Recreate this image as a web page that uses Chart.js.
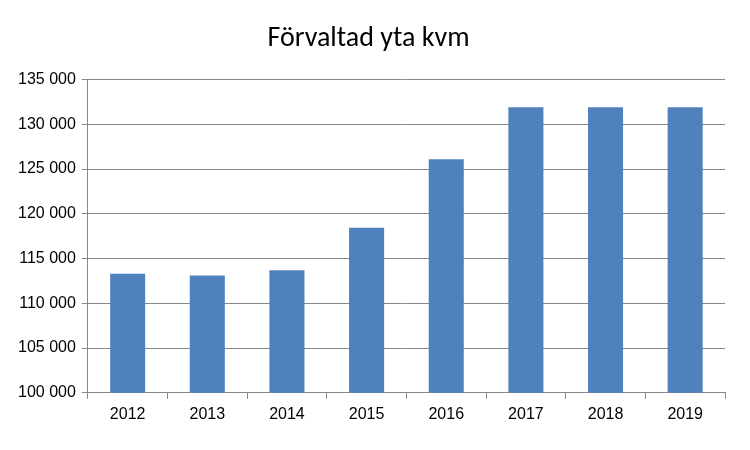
<!DOCTYPE html>
<html>
<head>
<meta charset="utf-8">
<script src="https://cdn.jsdelivr.net/npm/chart.js@4"></script>
<style>
  body { margin: 0; background: #fff; }
  #wrap { width: 750px; height: 450px; }
</style>
</head>
<body>
<div id="wrap"><canvas id="chart"></canvas></div>
<script>
const years = ['2012', '2013', '2014', '2015', '2016', '2017', '2018', '2019'];
const area = [113300, 113100, 113700, 118450, 126100, 131900, 131900, 131900];

function fmt(v) {
  return String(v).replace(/\B(?=(\d{3})+(?!\d))/g, ' ');
}

new Chart(document.getElementById('chart'), {
  type: 'bar',
  data: {
    labels: years,
    datasets: [{
      data: area,
      backgroundColor: '#4F81BD',
      categoryPercentage: 0.44,
      barPercentage: 1
    }]
  },
  options: {
    responsive: true,
    maintainAspectRatio: false,
    animation: false,
    layout: { padding: { left: 12, right: 25, top: 12, bottom: 20 } },
    plugins: {
      legend: { display: false },
      tooltip: { enabled: false },
      title: {
        display: true,
        text: 'Förvaltad yta kvm',
        color: '#000',
        font: { family: 'Calibri, Carlito, "Liberation Sans", sans-serif', size: 28, weight: 'normal' },
        padding: { top: 10, bottom: 24 }
      }
    },
    scales: {
      x: {
        grid: { display: true, drawOnChartArea: false, offset: true, color: '#888', tickLength: 6 },
        border: { color: '#888' },
        ticks: { color: '#000', padding: 6, font: { family: '"Liberation Sans", sans-serif', size: 16 } }
      },
      y: {
        min: 100000,
        max: 135000,
        grid: { color: '#888', tickLength: 6 },
        border: { color: '#888' },
        ticks: {
          stepSize: 5000,
          color: '#000',
          padding: 6,
          font: { family: '"Liberation Sans", sans-serif', size: 16 },
          callback: v => fmt(v)
        }
      }
    }
  }
});
</script>
</body>
</html>
